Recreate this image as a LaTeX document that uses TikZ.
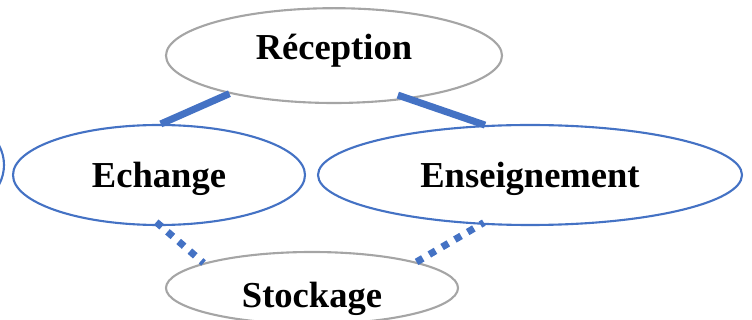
\documentclass[tikz,border=0pt]{standalone}
\usepackage{fontspec}
\setmainfont{Liberation Serif}
\usetikzlibrary{shapes.geometric}
\definecolor{bleu}{HTML}{4472C4}
\definecolor{gris}{HTML}{A5A5A5}
\begin{document}
\begin{tikzpicture}[
	bulle/.style={ellipse,draw=bleu,line width=1.5pt,inner sep=0pt,font=\fontsize{26}{30}\selectfont\bfseries,text height=0.61cm,text depth=0cm},
	bullegris/.style={bulle,draw=gris},
	fort/.style={draw=bleu,line width=5pt},
	pointille/.style={draw=bleu,line width=5pt,dash pattern=on 0.18cm off 0.19cm}]
		\useasboundingbox(0,0)rectangle(18.8,8);
		\clip(0,0)rectangle(18.8,8);
		\node[bullegris,minimum width=8.4cm,minimum height=2.37cm,text depth=0.4cm](reception)at(8.35,6.61){Réception};
		\node[bulle,minimum width=7.3cm,minimum height=2.5cm](echange)at(3.975,3.625){Echange};
		\node[bulle,minimum width=10.6cm,minimum height=2.5cm](enseignement)at(13.25,3.625){Enseignement};
		\node[bulle,minimum width=3.1cm,minimum height=2.5cm](gauche)at(-1.45,3.875){};
		\node[bullegris,minimum width=7.3cm,minimum height=1.8cm,text height=0.99cm](stockage)at(7.8,0.8){Stockage};
		\draw[fort](echange.88)--(reception.200);
		\draw[fort,shorten >=-0.3cm](enseignement.132)--(reception.-30);
		\draw[pointille,shorten <=-0.15cm](echange.-88)--(stockage.167);
		\draw[pointille,shorten >=-0.1cm](stockage.14)--(enseignement.-135);
	\end{tikzpicture}
\end{document}
